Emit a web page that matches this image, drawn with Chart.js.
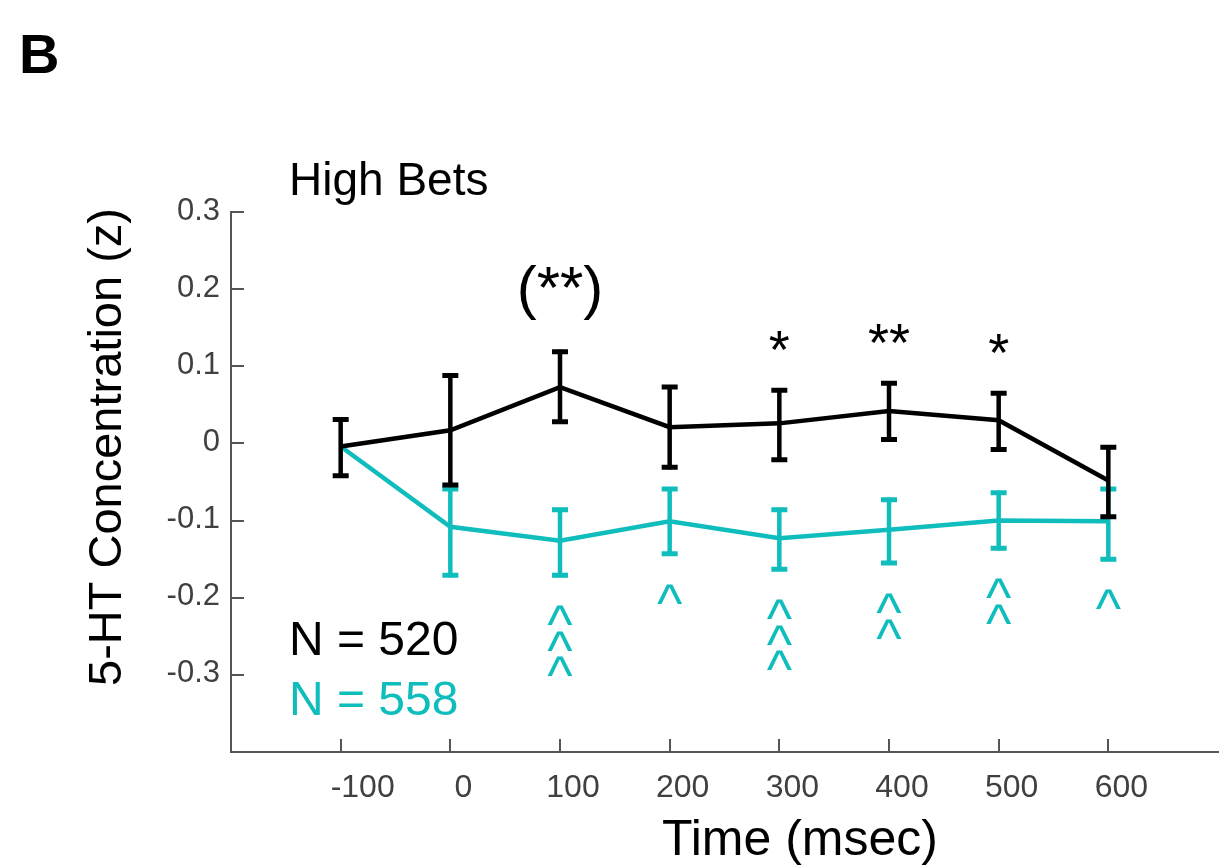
<!DOCTYPE html>
<html>
<head>
<meta charset="utf-8">
<script src="https://cdn.jsdelivr.net/npm/chart.js@4.4.1/dist/chart.umd.min.js"></script>
<style>
  body { margin: 0; background: #fff; }
  canvas { display: block; }
</style>
</head>
<body>
<canvas id="myChart" width="1220" height="868"></canvas>
<script>
// time points (msec)
var times = [-100, 0, 100, 200, 300, 400, 500, 600]

// black series, N = 520
var blackMean = [-0.004, 0.017, 0.073, 0.021, 0.026, 0.042, 0.030, -0.048]
var blackHi   = [0.031, 0.088, 0.119, 0.073, 0.069, 0.078, 0.065, -0.005]
var blackLo   = [-0.042, -0.054, 0.028, -0.031, -0.021, 0.005, -0.008, -0.095]

// cyan series, N = 558
var cyanMean = [-0.004, -0.108, -0.126, -0.101, -0.123, -0.112, -0.100, -0.101]
var cyanHi   = [-0.004, -0.059, -0.086, -0.059, -0.086, -0.073, -0.064, -0.059]
var cyanLo   = [-0.004, -0.171, -0.171, -0.143, -0.163, -0.155, -0.136, -0.150]

// significance marks
var starLabels = ['', '', '(**)', '', '*', '**', '*', '']
var caretCounts = [0, 0, 3, 1, 3, 2, 2, 1]

var xTicks = [-100, 0, 100, 200, 300, 400, 500, 600]
var yTicks = [-0.3, -0.2, -0.1, 0, 0.1, 0.2, 0.3]

var BLACK = '#000000'
var CYAN = '#0fbdbd'
var AXIS = '#555555'
var LABEL = '#404040'
var FONT = '"Liberation Sans", Arial, Helvetica, sans-serif'

function toPoints(arr) {
    return times.map(function(t, i){ return {x: t, y: arr[i]} })
}

var errorBars = {
    id: 'errorBars',
    afterDatasetDraw: function(chart, args) {
        var ds = chart.data.datasets[args.index]
        if (!ds.errHi) return
        var ctx = chart.ctx, xs = chart.scales.x, ys = chart.scales.y
        ctx.save()
        ctx.strokeStyle = ds.borderColor
        for (var i = 0; i < times.length; i++) {
            if (ds.errHi[i] === ds.errLo[i]) continue
            var px = xs.getPixelForValue(times[i])
            var top = ys.getPixelForValue(ds.errHi[i])
            var bot = ys.getPixelForValue(ds.errLo[i])
            ctx.lineWidth = 4.5
            ctx.beginPath()
            ctx.moveTo(px, top - 2); ctx.lineTo(px, bot + 2)
            ctx.stroke()
            ctx.lineWidth = 5
            ctx.beginPath()
            ctx.moveTo(px - 8, top); ctx.lineTo(px + 8, top)
            ctx.moveTo(px - 8, bot); ctx.lineTo(px + 8, bot)
            ctx.stroke()
        }
        ctx.restore()
    }
}

var decorations = {
    id: 'decorations',
    afterDraw: function(chart) {
        var ctx = chart.ctx, xs = chart.scales.x, ys = chart.scales.y
        var area = chart.chartArea
        ctx.save()

        // inward ticks
        ctx.strokeStyle = AXIS
        ctx.lineWidth = 2
        ctx.beginPath()
        yTicks.forEach(function(v){
            var py = Math.round(ys.getPixelForValue(v))
            ctx.moveTo(area.left, py); ctx.lineTo(area.left + 13, py)
        })
        xTicks.forEach(function(v){
            var px = Math.round(xs.getPixelForValue(v))
            ctx.moveTo(px, area.bottom); ctx.lineTo(px, area.bottom - 13)
        })
        ctx.stroke()

        // tick labels
        ctx.fillStyle = LABEL
        ctx.font = '31px ' + FONT
        ctx.textBaseline = 'middle'
        ctx.textAlign = 'right'
        yTicks.forEach(function(v){
            ctx.fillText(String(v), area.left - 11, ys.getPixelForValue(v) - 1)
        })
        ctx.font = '32px ' + FONT
        ctx.textAlign = 'center'
        xTicks.forEach(function(v){
            var off = v < 0 ? 22 : 13
            ctx.fillText(String(v), xs.getPixelForValue(v) + off, area.bottom + 36)
        })

        // panel letter and title
        ctx.fillStyle = '#000'
        ctx.textAlign = 'left'
        ctx.textBaseline = 'alphabetic'
        ctx.font = 'bold 56px ' + FONT
        ctx.fillText('B', 19, 73)
        ctx.font = '46px ' + FONT
        ctx.fillText('High Bets', area.left + 58, 195)

        // axis titles
        ctx.textAlign = 'center'
        ctx.font = '50px ' + FONT
        ctx.fillText('Time (msec)', 800, 855)
        ctx.font = '47px ' + FONT
        ctx.save()
        ctx.translate(121, 447)
        ctx.rotate(-Math.PI / 2)
        ctx.fillText('5-HT Concentration (z)', 0, 0)
        ctx.restore()

        // stars above black series
        for (var i = 0; i < times.length; i++) {
            if (!starLabels[i]) continue
            var px = xs.getPixelForValue(times[i])
            var top = ys.getPixelForValue(blackHi[i])
            if (starLabels[i].charAt(0) === '(') {
                ctx.font = '60px ' + FONT
                ctx.fillText(starLabels[i], px, top - 44)
            } else {
                ctx.font = '54px ' + FONT
                ctx.fillText(starLabels[i], px, top - 22)
            }
        }

        // carets below cyan series
        ctx.fillStyle = CYAN
        ctx.font = '54px ' + FONT
        for (var j = 0; j < times.length; j++) {
            var bot = ys.getPixelForValue(cyanLo[j])
            var cx = xs.getPixelForValue(times[j])
            for (var k = 0; k < caretCounts[j]; k++) {
                ctx.fillText('^', cx, bot + 68 + k * 25.5)
            }
        }

        // N labels
        ctx.textAlign = 'left'
        ctx.font = '48px ' + FONT
        ctx.fillStyle = BLACK
        ctx.fillText('N = 520', area.left + 58, 655)
        ctx.fillStyle = CYAN
        ctx.fillText('N = 558', area.left + 58, 715)

        ctx.restore()
    }
}

var myChart = document.getElementById('myChart').getContext('2d')
var chart = new Chart(myChart, {
    type: 'line',
    data: {
        datasets: [
            {
                label: 'N = 520',
                data: toPoints(blackMean),
                borderColor: BLACK,
                borderWidth: 4.5,
                pointRadius: 0,
                errHi: blackHi,
                errLo: blackLo
            },
            {
                label: 'N = 558',
                data: toPoints(cyanMean),
                borderColor: CYAN,
                borderWidth: 4.5,
                pointRadius: 0,
                errHi: cyanHi,
                errLo: cyanLo
            }
        ]
    },
    options: {
        responsive: false,
        animation: false,
        devicePixelRatio: 1,
        layout: { padding: { left: 231, right: 2, top: 212, bottom: 116 } },
        plugins: { legend: { display: false }, tooltip: { enabled: false } },
        scales: {
            x: {
                type: 'linear',
                min: -200,
                max: 700,
                afterFit: function(s){ s.height = 0 },
                grid: { display: false, drawTicks: false },
                border: { display: true, color: AXIS, width: 2 },
                ticks: { display: false, stepSize: 100 }
            },
            y: {
                min: -0.4,
                max: 0.3,
                afterFit: function(s){ s.width = 0 },
                grid: { display: false, drawTicks: false },
                border: { display: true, color: AXIS, width: 2 },
                ticks: { display: false, stepSize: 0.1 }
            }
        }
    },
    plugins: [errorBars, decorations]
})
</script>
</body>
</html>
